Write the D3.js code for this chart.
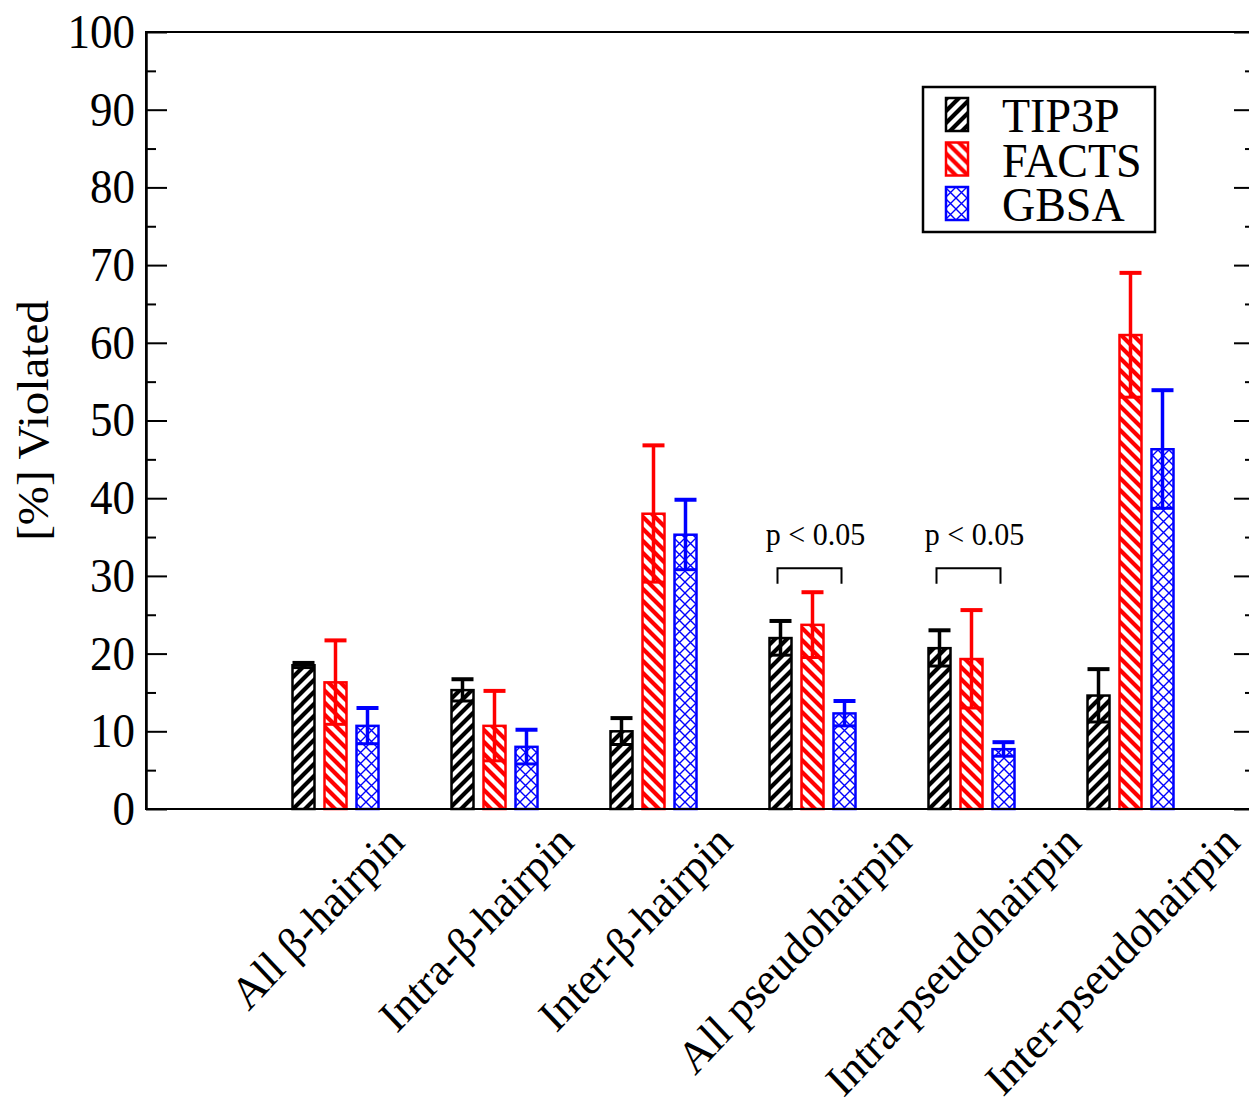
<html>
  <head>
    <meta charset="utf-8" />
    <title>[%] Violated</title>
    <script src="https://d3js.org/d3.v7.min.js"></script>
    <style>
      body { margin: 0; background: #fff; }
    </style>
  </head>
  <body>
    <div id="figure"></div>

    <script type="text/javascript">
      // data
      var categories = [
        "All β-hairpin",
        "Intra-β-hairpin",
        "Inter-β-hairpin",
        "All pseudohairpin",
        "Intra-pseudohairpin",
        "Inter-pseudohairpin"
      ];
      var seriesNames = ["TIP3P", "FACTS", "GBSA"];
      var tip3p = [18.5, 15.3, 10.0, 22.0, 20.7, 14.6];
      var tip3pErr = [0.3, 1.4, 1.7, 2.2, 2.3, 3.4];
      var facts = [16.3, 10.7, 38.0, 23.7, 19.3, 61.0];
      var factsErr = [5.4, 4.5, 8.8, 4.2, 6.3, 8.0];
      var gbsa = [10.7, 8.0, 35.3, 12.3, 7.7, 46.3];
      var gbsaErr = [2.3, 2.2, 4.5, 1.6, 0.9, 7.6];
      var yTicks = [0, 10, 20, 30, 40, 50, 60, 70, 80, 90, 100];
      var yMinorTicks = [5, 15, 25, 35, 45, 55, 65, 75, 85, 95];
      // significance brackets: group, bracket low/high, label level
      var sigGroups = ["All pseudohairpin", "Intra-pseudohairpin"];
      var sigLabel = "p < 0.05";
      var sigBracket = [29, 31];
      var sigText = 34;

      var width = 1249;
      var height = 1112;
      var margin = { top: 32, left: 146, right: -6, bottom: 303 };
      var w = width - margin.left - margin.right;
      var h = height - margin.top - margin.bottom;
      var font = "'Liberation Serif', 'Times New Roman', serif";
      var stretch = "scale(1,1.07)"; // the original text is a bit taller than wide
      var colors = { TIP3P: "#000000", FACTS: "#ff0000", GBSA: "#0000ff" };
      var values = { TIP3P: tip3p, FACTS: facts, GBSA: gbsa };
      var errors = { TIP3P: tip3pErr, FACTS: factsErr, GBSA: gbsaErr };

      var svg = d3
        .select("#figure")
        .append("svg")
        .attr("width", width)
        .attr("height", height)
        .style("font-family", font);

      // fill patterns
      var defs = svg.append("defs");
      function pattern(id, size, d, color, sw) {
        var p = defs
          .append("pattern")
          .attr("id", id)
          .attr("patternUnits", "userSpaceOnUse")
          .attr("width", size)
          .attr("height", size);
        p.append("rect").attr("width", size).attr("height", size).attr("fill", "#fff");
        p.append("path").attr("d", d).attr("stroke", color).attr("stroke-width", sw).attr("fill", "none");
      }
      pattern("pat-TIP3P", 12, "M-3,3L3,-3M0,12L12,0M9,15L15,9", "#000", 4.2);
      pattern("pat-FACTS", 12, "M-3,9L3,15M0,0L12,12M9,-3L15,3", "#f00", 4.2);
      pattern("pat-GBSA", 11, "M0,0L11,11M11,0L0,11", "#00f", 1.4);

      var g = svg.append("g").attr("transform", "translate(" + margin.left + "," + margin.top + ")");

      var x = d3.scalePoint().domain(categories).range([189.5, 984.5]);
      var xs = d3.scaleBand().domain(seriesNames).range([-48, 48]).paddingInner(0.3125).paddingOuter(0.15625);
      var y = d3.scaleLinear().domain([0, 100]).range([h, 0]);

      // bars
      var rows = [];
      categories.forEach(function (c, i) {
        seriesNames.forEach(function (s) {
          rows.push({ cat: c, series: s, value: values[s][i], err: errors[s][i] });
        });
      });

      g.selectAll("rect.bar")
        .data(rows)
        .enter()
        .append("rect")
        .attr("class", "bar")
        .attr("x", function (d) { return x(d.cat) + xs(d.series); })
        .attr("y", function (d) { return y(d.value); })
        .attr("width", xs.bandwidth())
        .attr("height", function (d) { return y(0) - y(d.value); })
        .attr("fill", function (d) { return "url(#pat-" + d.series + ")"; })
        .attr("stroke", function (d) { return colors[d.series]; })
        .attr("stroke-width", 2.5);

      // error bars
      var eb = g.selectAll("g.err").data(rows).enter().append("g").attr("class", "err")
        .attr("stroke", function (d) { return colors[d.series]; })
        .attr("stroke-width", 3.5);
      eb.append("line")
        .attr("x1", function (d) { return x(d.cat) + xs(d.series) + xs.bandwidth() / 2; })
        .attr("x2", function (d) { return x(d.cat) + xs(d.series) + xs.bandwidth() / 2; })
        .attr("y1", function (d) { return y(d.value - d.err); })
        .attr("y2", function (d) { return y(d.value + d.err); });
      eb.append("line")
        .attr("x1", function (d) { return x(d.cat) + xs(d.series); })
        .attr("x2", function (d) { return x(d.cat) + xs(d.series) + xs.bandwidth(); })
        .attr("y1", function (d) { return y(d.value + d.err); })
        .attr("y2", function (d) { return y(d.value + d.err); })
        .attr("stroke-width", 4);
      eb.append("line")
        .attr("x1", function (d) { return x(d.cat) + xs(d.series); })
        .attr("x2", function (d) { return x(d.cat) + xs(d.series) + xs.bandwidth(); })
        .attr("y1", function (d) { return y(d.value - d.err); })
        .attr("y2", function (d) { return y(d.value - d.err); })
        .attr("stroke-width", 3);

      // frame
      g.append("rect")
        .attr("width", w)
        .attr("height", h)
        .attr("fill", "none")
        .attr("stroke", "#000")
        .attr("stroke-width", 2);

      // y axes (ticks inward)
      function styleAxis(sel) {
        sel.attr("font-family", null);
        sel.select(".domain").attr("stroke-width", 2);
        sel.selectAll(".tick line").attr("stroke-width", 2);
      }
      g.append("g")
        .call(d3.axisLeft(y).tickValues(yTicks).tickSizeInner(-21).tickSizeOuter(0).tickPadding(11))
        .call(styleAxis)
        .selectAll("text")
        .attr("font-size", 45)
        .attr("transform", stretch)
        .style("font-family", font)
        .attr("fill", "#000");
      g.append("g")
        .call(d3.axisLeft(y).tickValues(yMinorTicks).tickSizeInner(-10).tickSizeOuter(0).tickFormat(""))
        .call(styleAxis);
      g.append("g")
        .attr("transform", "translate(" + w + ",0)")
        .call(d3.axisRight(y).tickValues(yTicks).tickSizeInner(-21).tickSizeOuter(0).tickFormat(""))
        .call(styleAxis);
      g.append("g")
        .attr("transform", "translate(" + w + ",0)")
        .call(d3.axisRight(y).tickValues(yMinorTicks).tickSizeInner(-10).tickSizeOuter(0).tickFormat(""))
        .call(styleAxis);

      // y label
      g.append("text")
        .attr("transform", "translate(" + (33 - margin.left) + "," + h / 2 + ") " + stretch + " rotate(-90)")
        .attr("text-anchor", "middle")
        .attr("dy", "0.35em")
        .attr("font-size", 44)
        .style("font-family", font)
        .text("[%] Violated");

      // rotated category labels, centred under tick, top aligned
      categories.forEach(function (c) {
        var lg = g.append("g");
        lg.append("text")
          .attr("transform", "scale(1,1.06) rotate(-45)")
          .attr("text-anchor", "middle")
          .attr("font-size", 43)
          .style("font-family", font)
          .text(c);
        var bb = lg.node().getBBox();
        var tx = x(c) - 18;
        lg.attr("transform", "translate(" + (tx - (bb.x + bb.width / 2)) + "," + (h + 7 - bb.y) + ")");
      });

      // significance brackets
      sigGroups.forEach(function (c) {
        var x0 = x(c) + xs("TIP3P") + xs.bandwidth() / 2 - 3;
        var x1 = x(c) + xs("GBSA") + xs.bandwidth() / 2 - 3;
        g.append("path")
          .attr("d", "M" + x0 + "," + y(sigBracket[0]) + "V" + y(sigBracket[1]) + "H" + x1 + "V" + y(sigBracket[0]))
          .attr("fill", "none")
          .attr("stroke", "#000")
          .attr("stroke-width", 2);
        g.append("text")
          .attr("transform", "translate(" + (x(c) + 3) + "," + y(sigText) + ") scale(1,1.05)")
          .attr("text-anchor", "middle")
          .attr("font-size", 30)
          .style("font-family", font)
          .text(sigLabel);
      });

      // legend
      var legend = svg.append("g").attr("transform", "translate(923,87)");
      legend.append("rect")
        .attr("width", 232)
        .attr("height", 145)
        .attr("fill", "#fff")
        .attr("stroke", "#000")
        .attr("stroke-width", 2.5);
      var items = legend.selectAll("g.item").data(seriesNames).enter().append("g")
        .attr("class", "item")
        .attr("transform", function (d, i) { return "translate(0," + (11 + i * 44.5) + ")"; });
      items.append("rect")
        .attr("x", 23)
        .attr("width", 22)
        .attr("height", 33)
        .attr("fill", function (d) { return "url(#pat-" + d + ")"; })
        .attr("stroke", function (d) { return colors[d]; })
        .attr("stroke-width", 2.5);
      items.append("text")
        .attr("transform", "translate(79,34) scale(1,1.04)")
        .attr("font-size", 46)
        .style("font-family", font)
        .text(function (d) { return d; });
    </script>
  </body>
</html>
